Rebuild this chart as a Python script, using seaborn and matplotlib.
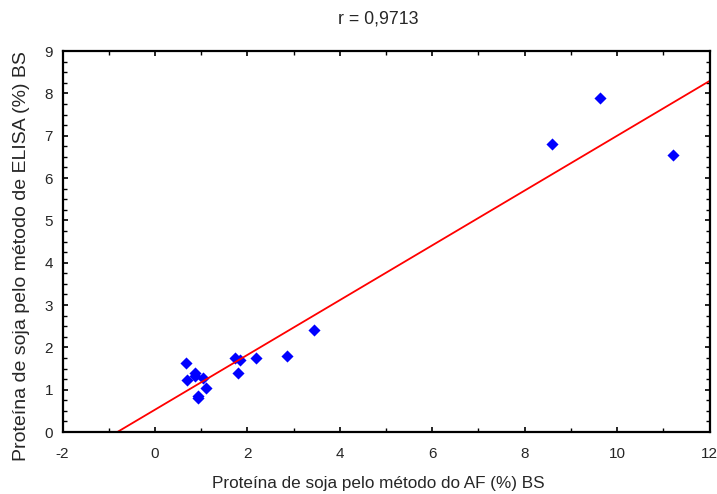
import matplotlib
matplotlib.use("Agg")
import matplotlib.pyplot as plt
from matplotlib.ticker import MultipleLocator
import seaborn as sns
import pandas as pd

# Data
af = [9.63, 8.60, 11.20, 3.45, 2.85, 0.67, 0.70, 0.87, 0.87, 1.04, 1.10,
      0.93, 0.94, 1.74, 1.84, 1.80, 2.19]
elisa = [7.89, 6.81, 6.55, 2.40, 1.79, 1.63, 1.24, 1.40, 1.32, 1.28, 1.05,
         0.85, 0.81, 1.74, 1.70, 1.39, 1.74]
title_text = "r = 0,9713"
xlabel_text = "Proteína de soja pelo método do AF (%) BS"
ylabel_text = "Proteína de soja pelo método de ELISA (%) BS"

df = pd.DataFrame({"af": af, "elisa": elisa})

sns.set_style("white")
plt.rcParams["font.family"] = ["Liberation Sans", "DejaVu Sans"]
plt.rcParams["axes.unicode_minus"] = False

W, H = 717, 494
fig = plt.figure(figsize=(W / 100, H / 100), dpi=100)
L, R, T, B = 62.6, 709.5, 51.0, 432.0
ax = fig.add_axes([L / W, 1 - B / H, (R - L) / W, (B - T) / H])
ax.set_xlim(-2, 12)
ax.set_ylim(0, 9)

sns.regplot(data=df, x="af", y="elisa", ax=ax, ci=None, truncate=False,
            marker="D",
            scatter_kws=dict(color="#0000ff", s=38, linewidths=0, alpha=1),
            line_kws=dict(color="#ff0000", lw=1.3))

ax.set_xlim(-2, 12)
ax.set_ylim(0, 9)
ax.xaxis.set_major_locator(MultipleLocator(2))
ax.xaxis.set_minor_locator(MultipleLocator(1))
ax.yaxis.set_major_locator(MultipleLocator(1))
ax.yaxis.set_minor_locator(MultipleLocator(0.25))
ax.tick_params(which="both", direction="in", top=True, right=True,
               bottom=True, left=True, color="black", labelsize=11)
ax.tick_params(which="major", length=3.5, width=1.2)
ax.tick_params(which="minor", length=3, width=1.0)
ax.tick_params(axis="x", which="major", pad=11)
ax.tick_params(axis="y", which="major", pad=7)
for s in ax.spines.values():
    s.set_color("black")
    s.set_linewidth(1.6)

ax.set_xlabel(xlabel_text, fontsize=12.3)
ax.set_ylabel(ylabel_text, fontsize=14)
ax.xaxis.set_label_coords((378 - L) / (R - L), -(488 - B) / (B - T))
ax.xaxis.label.set_va("baseline")
ax.yaxis.set_label_coords(-(L - 22) / (R - L), (B - 256.5) / (B - T))
ax.yaxis.label.set_va("center")
fig.text(378 / W, 1 - 19 / H, title_text, ha="center", va="center",
         fontsize=12.8)

fig.savefig("out.png", dpi=100)
